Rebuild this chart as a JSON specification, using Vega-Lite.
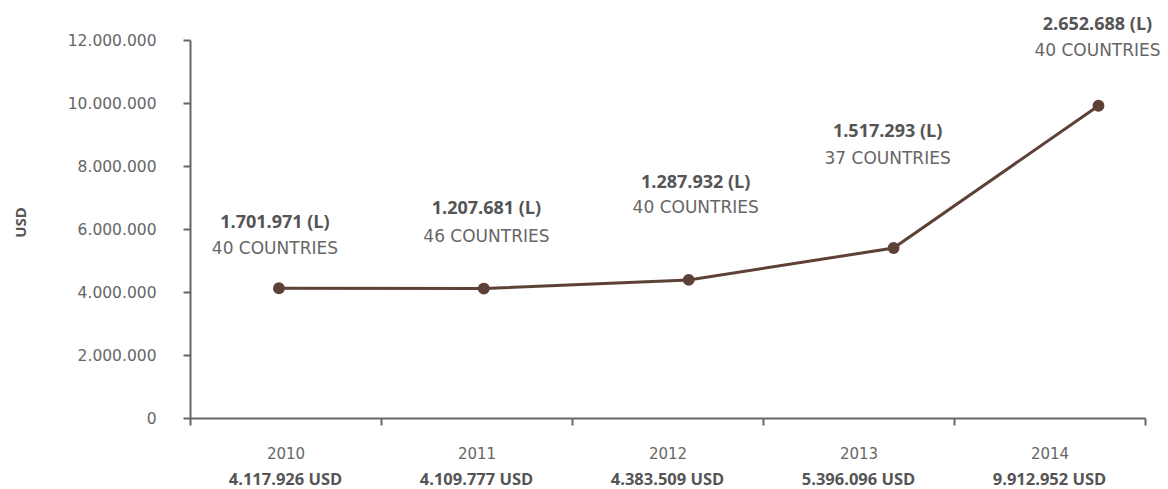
{
  "$schema": "https://vega.github.io/schema/vega-lite/v6.json",
  "autosize": {"type": "none"},
  "width": 955,
  "height": 378,
  "padding": {"left": 190, "top": 40, "right": 23, "bottom": 71},
  "background": "white",
  "config": {
    "view": {"stroke": null},
    "locale": {"number": {"decimal": ",", "thousands": ".", "grouping": [3], "currency": ["", ""]}}
  },
  "data": {
    "values": [
      {"year": 2010, "usd": 4117926, "usd_label": "4.117.926 USD", "local": "1.701.971 (L)", "countries": "40 COUNTRIES"},
      {"year": 2011, "usd": 4109777, "usd_label": "4.109.777 USD", "local": "1.207.681 (L)", "countries": "46 COUNTRIES"},
      {"year": 2012, "usd": 4383509, "usd_label": "4.383.509 USD", "local": "1.287.932 (L)", "countries": "40 COUNTRIES"},
      {"year": 2013, "usd": 5396096, "usd_label": "5.396.096 USD", "local": "1.517.293 (L)", "countries": "37 COUNTRIES"},
      {"year": 2014, "usd": 9912952, "usd_label": "9.912.952 USD", "local": "2.652.688 (L)", "countries": "40 COUNTRIES"}
    ]
  },
  "layer": [
    {
      "mark": {"type": "bar", "opacity": 0},
      "encoding": {
        "x": {
          "field": "year", "type": "ordinal",
          "scale": {"paddingInner": 0, "paddingOuter": 0},
          "axis": {
            "orient": "bottom", "title": null, "labelAngle": 0,
            "domainColor": "#666666", "domainWidth": 2,
            "tickBand": "extent", "tickSize": 7, "tickWidth": 2, "tickColor": "#666666",
            "labelFont": "DejaVu Sans", "labelFontSize": 15, "labelColor": "#666666",
            "labelPadding": 21, "grid": false
          }
        },
        "y": {
          "field": "usd", "type": "quantitative",
          "scale": {"domain": [0, 12000000], "nice": false, "zero": true},
          "axis": {
            "title": "USD",
            "values": [0, 2000000, 4000000, 6000000, 8000000, 10000000, 12000000],
            "format": ",d",
            "grid": false,
            "domainColor": "#666666", "domainWidth": 2,
            "tickSize": 7, "tickWidth": 2, "tickColor": "#666666",
            "labelFont": "DejaVu Sans", "labelFontSize": 15.5, "labelColor": "#666666",
            "labelPadding": 27,
            "titleFont": "Open Sans", "titleFontWeight": "bold", "titleFontSize": 15,
            "titleColor": "#555555",
            "titleX": -170, "titleY": 182, "titleBaseline": "middle", "titleAngle": -90
          }
        }
      }
    },
    {
      "mark": {"type": "bar", "opacity": 0},
      "encoding": {
        "x": {
          "field": "usd_label", "type": "ordinal", "sort": null,
          "scale": {"paddingInner": 0, "paddingOuter": 0},
          "axis": {
            "orient": "bottom", "title": null, "labelAngle": 0,
            "domain": false, "ticks": false, "tickSize": 0, "grid": false,
            "labelFont": "Open Sans", "labelFontWeight": "bold", "labelFontSize": 16.5,
            "labelColor": "#555555", "labelPadding": 53
          }
        },
        "y": {"field": "usd", "type": "quantitative", "scale": {"domain": [0, 12000000], "nice": false, "zero": true}}
      }
    },
    {
      "encoding": {
        "x": {
          "field": "year", "type": "quantitative",
          "scale": {"domain": [2009.566, 2014.227], "nice": false, "zero": false},
          "axis": null
        },
        "y": {"field": "usd", "type": "quantitative", "scale": {"domain": [0, 12000000], "nice": false, "zero": true}}
      },
      "layer": [
        {"mark": {"type": "line", "color": "#5d4136", "strokeWidth": 3}, "encoding": {}},
        {"mark": {"type": "point", "filled": true, "size": 140, "color": "#5d4136", "opacity": 1}, "encoding": {}},
        {
          "transform": [{"filter": "datum.year == 2010"}],
          "layer": [
            {"mark": {"type": "text", "font": "Open Sans", "fontWeight": "bold", "fontSize": 18, "color": "#555555", "baseline": "middle", "align": "center", "dy": -65, "dx": -4}, "encoding": {"text": {"field": "local"}}},
            {"mark": {"type": "text", "font": "DejaVu Sans", "fontSize": 17, "color": "#666666", "baseline": "middle", "align": "center", "dy": -39, "dx": -4}, "encoding": {"text": {"field": "countries"}}}
          ]
        },
        {
          "transform": [{"filter": "datum.year == 2011"}],
          "layer": [
            {"mark": {"type": "text", "font": "Open Sans", "fontWeight": "bold", "fontSize": 18, "color": "#555555", "baseline": "middle", "align": "center", "dy": -79.5, "dx": 2.6}, "encoding": {"text": {"field": "local"}}},
            {"mark": {"type": "text", "font": "DejaVu Sans", "fontSize": 17, "color": "#666666", "baseline": "middle", "align": "center", "dy": -52, "dx": 2.6}, "encoding": {"text": {"field": "countries"}}}
          ]
        },
        {
          "transform": [{"filter": "datum.year == 2012"}],
          "layer": [
            {"mark": {"type": "text", "font": "Open Sans", "fontWeight": "bold", "fontSize": 18, "color": "#555555", "baseline": "middle", "align": "center", "dy": -97, "dx": 7}, "encoding": {"text": {"field": "local"}}},
            {"mark": {"type": "text", "font": "DejaVu Sans", "fontSize": 17, "color": "#666666", "baseline": "middle", "align": "center", "dy": -71.5, "dx": 7}, "encoding": {"text": {"field": "countries"}}}
          ]
        },
        {
          "transform": [{"filter": "datum.year == 2013"}],
          "layer": [
            {"mark": {"type": "text", "font": "Open Sans", "fontWeight": "bold", "fontSize": 18, "color": "#555555", "baseline": "middle", "align": "center", "dy": -115.7, "dx": -6}, "encoding": {"text": {"field": "local"}}},
            {"mark": {"type": "text", "font": "DejaVu Sans", "fontSize": 17, "color": "#666666", "baseline": "middle", "align": "center", "dy": -88.7, "dx": -6}, "encoding": {"text": {"field": "countries"}}}
          ]
        },
        {
          "transform": [{"filter": "datum.year == 2014"}],
          "layer": [
            {"mark": {"type": "text", "font": "Open Sans", "fontWeight": "bold", "fontSize": 18, "color": "#555555", "baseline": "middle", "align": "center", "dy": -80.7, "dx": -1}, "encoding": {"text": {"field": "local"}}},
            {"mark": {"type": "text", "font": "DejaVu Sans", "fontSize": 17, "color": "#666666", "baseline": "middle", "align": "center", "dy": -54.5, "dx": -1}, "encoding": {"text": {"field": "countries"}}}
          ]
        }
      ]
    }
  ],
  "resolve": {"scale": {"x": "independent"}, "axis": {"x": "independent"}}
}
